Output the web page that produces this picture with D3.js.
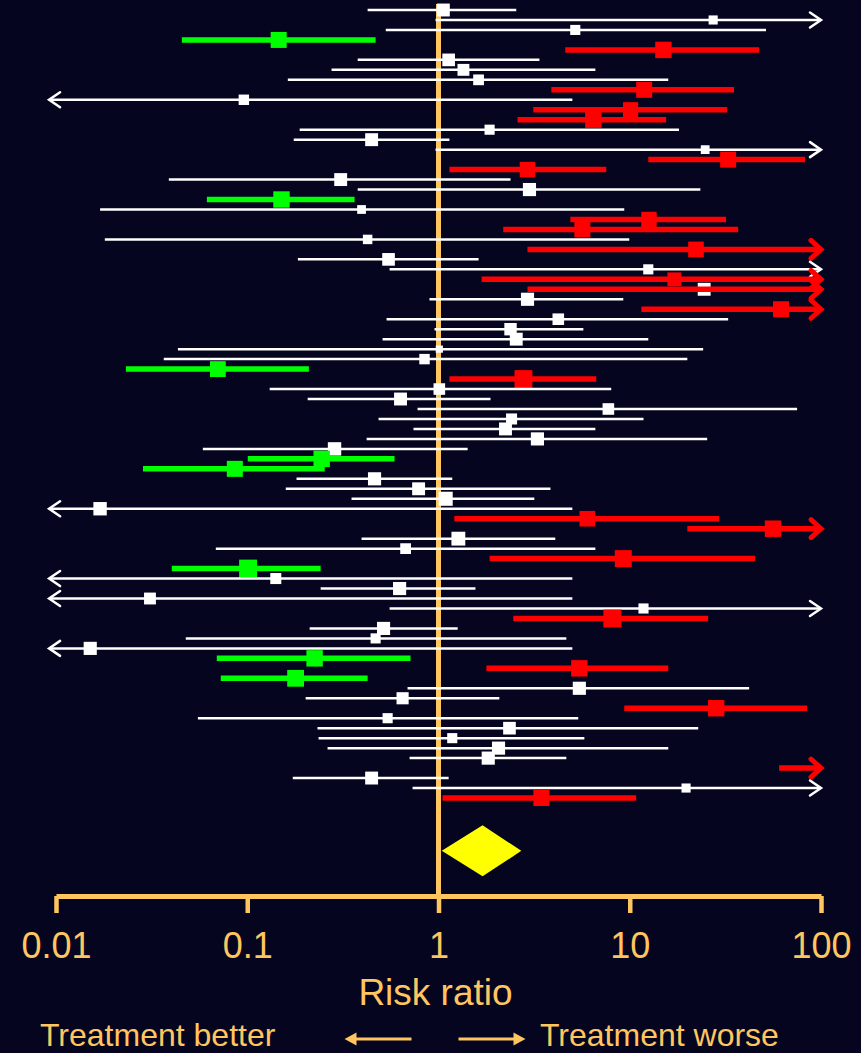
<!DOCTYPE html>
<html>
<head>
<meta charset="utf-8">
<script src="https://cdn.jsdelivr.net/npm/d3@7"></script>
<style>
  body { margin: 0; background: #050520; }
  svg { display: block; }
</style>
</head>
<body>
<svg id="chart"></svg>
<script>
// one entry per study, row = line of the plot (row 28 holds two studies)
var rowIndex = [0,1,2,3,4,5,6,7,8,9,10,11,12,13,14,15,16,17,18,19,
  20,21,22,23,24,25,26,27,28,28,29,30,31,32,33,34,35,36,37,38,39,
  40,41,42,43,44,45,46,47,48,49,50,51,52,53,54,55,56,57,58,59,
  60,61,62,63,64,65,66,67,68,69,70,71,72,73,74,75,76,77,78,79]

var estimates = [1.06,27.3,5.19,0.146,15.0,1.13,1.35,1.62,11.9,0.096,
  10.1,6.45,1.85,0.447,24.8,32.7,2.92,0.308,2.99,0.151,
  0.396,12.6,5.65,0.426,22.2,0.548,12.5,17.1,24.5,150,2.92,
  61.8,4.23,2.38,2.55,1.01,0.845,0.0702,2.78,1.01,0.633,
  7.73,2.41,2.24,3.29,0.286,0.245,0.0861,0.463,0.787,1.09,
  0.017,6.0,56.1,1.27,0.673,9.25,0.101,0.141,0.626,0.031,
  11.8,8.11,0.516,0.469,0.0151,0.225,5.45,0.179,5.45,0.649,
  28.3,0.542,2.35,1.18,2.06,1.82,180,0.447,19.7,3.45]

var lower = [0.426,0.965,0.53,0.0455,4.60,0.378,0.276,0.163,3.89,0.005,
  3.13,2.59,0.188,0.175,0.965,12.5,1.14,0.0389,0.378,0.0615,
  0.017,4.89,2.18,0.018,2.92,0.184,0.555,1.68,3.3,2.92,0.897,
  11.5,0.535,0.953,0.510,0.0434,0.0366,0.0232,1.14,0.131,0.207,
  0.777,0.486,0.740,0.421,0.0586,0.1006,0.0285,0.181,0.159,0.351,
  0.005,1.21,20.0,0.396,0.0685,1.85,0.0403,0.005,0.242,0.005,
  0.555,2.46,0.212,0.0477,0.005,0.0693,1.78,0.0727,0.689,0.202,
  9.36,0.0552,0.233,0.236,0.263,0.706,60.4,0.173,0.732,1.05]

var upper = [2.55,300,51.6,0.469,47.5,3.37,6.61,15.9,35.1,5.01,
  32.3,15.5,18.1,1.14,300,82.5,7.54,2.38,23.4,0.364,
  9.36,31.9,36.9,9.94,300,1.62,300,300,85,300,9.25,
  300,32.7,5.72,12.5,24.2,20.0,0.210,6.68,8.00,1.87,
  75,11.8,6.61,25.4,1.42,0.589,0.254,1.18,3.85,3.17,
  5.01,29.3,300,4.08,6.61,45.2,0.242,5.01,1.56,5.01,
  300,25.7,1.26,4.66,5.01,0.714,15.9,0.426,42.1,2.08,
  84.5,5.38,22.8,5.79,15.9,4.66,300,1.13,300,10.8]

var weights = [2.6,1.3,1.6,4,4.2,2.5,2.2,1.8,4,1.7,
  3.6,4.2,1.6,2.6,1.2,4,3.8,2.6,2.7,4.2,
  1.2,3.7,4,1.4,3.8,2.5,1.6,3.0,2.6,3,2.7,
  4,2.1,2.4,2.6,0.8,1.7,3.9,5,2.1,2.6,
  2.1,1.9,2.6,2.7,2.8,4.2,4,2.7,2.6,3.1,
  2.8,3.8,4.2,3.0,1.8,4.5,5,1.9,2.7,2.2,
  1.6,5,2.7,1.6,2.7,4.2,4.2,4.4,2.7,2.3,
  4.2,1.6,2.5,1.6,2.7,2.7,3,2.6,1.3,4]

// n = no clear effect, b = treatment better, w = treatment worse
var result = ['n','n','n','b','w','n','n','n','w','n',
  'w','w','n','n','n','w','w','n','n','b',
  'n','w','w','n','w','n','n','w','n','w','n',
  'w','n','n','n','n','n','b','w','n','n',
  'n','n','n','n','n','b','b','n','n','n',
  'n','w','w','n','n','w','b','n','n','n',
  'n','w','n','n','n','b','w','b','n','n',
  'w','n','n','n','n','n','w','n','n','w']

// pooled estimate: point, lower, upper
var pooled = [1.70, 1.04, 2.71]

var tickValues = [0.01, 0.1, 1, 10, 100]
var tickLabels = ['0.01', '0.1', '1', '10', '100']

var ORANGE = '#ffc660'
var colors = { n: '#ffffff', b: '#00ff00', w: '#ff0000' }

var W = 861, H = 1053
var svg = d3.select('#chart').attr('width', W).attr('height', H)
  .style('font-family', 'Liberation Sans, Arial, sans-serif')

svg.append('rect').attr('width', W).attr('height', H).attr('fill', '#050520')

var x = d3.scaleLog().domain([0.01, 100]).range([56, 821])
var y = d3.scaleLinear().domain([0, 79]).range([10, 798])
var size = d3.scaleSqrt().domain([0, 4]).range([0, 16])

var axisY = 896
var LO_CLIP = 0.0092, HI_CLIP = 100

// line of no effect
svg.append('line')
  .attr('x1', x(1)).attr('x2', x(1))
  .attr('y1', 4).attr('y2', axisY)
  .attr('stroke', ORANGE).attr('stroke-width', 5)

var studies = rowIndex.map(function (r, i) {
  return { row: r, est: estimates[i], lo: lower[i], hi: upper[i], w: weights[i], res: result[i] }
})

var g = svg.selectAll('g.study')
  .data(studies)
  .join('g')
  .attr('class', 'study')

g.each(function (d) {
  var s = d3.select(this)
  var c = colors[d.res]
  var thick = d.res === 'n' ? 2.5 : 5.5
  var cy = y(d.row)
  var x1 = x(Math.max(d.lo, LO_CLIP))
  var x2 = x(Math.min(d.hi, HI_CLIP))

  s.append('line')
    .attr('x1', x1).attr('x2', x2)
    .attr('y1', cy).attr('y2', cy)
    .attr('stroke', c).attr('stroke-width', thick)

  // chevrons for intervals running off the scale
  var ax = d.res === 'n' ? 11 : 10
  var ay = d.res === 'n' ? 7.5 : 9
  var aw = d.res === 'n' ? 2.5 : 5
  if (d.hi > HI_CLIP) {
    s.append('path')
      .attr('d', 'M' + (x2 - ax) + ',' + (cy - ay) + 'L' + x2 + ',' + cy + 'L' + (x2 - ax) + ',' + (cy + ay))
      .attr('fill', 'none').attr('stroke', c).attr('stroke-width', aw)
      .attr('stroke-linecap', 'round')
  }
  if (d.lo < 0.01) {
    s.append('path')
      .attr('d', 'M' + (x1 + ax) + ',' + (cy - ay) + 'L' + x1 + ',' + cy + 'L' + (x1 + ax) + ',' + (cy + ay))
      .attr('fill', 'none').attr('stroke', c).attr('stroke-width', aw)
      .attr('stroke-linecap', 'round')
  }

  // point estimate, sized by weight
  if (d.est >= 0.01 && d.est <= 100) {
    var sz = size(d.w)
    s.append('rect')
      .attr('x', x(d.est) - sz / 2).attr('y', cy - sz / 2)
      .attr('width', sz).attr('height', sz)
      .attr('fill', c)
  }
})

// pooled diamond
var dy = y(84.3)
svg.append('path')
  .attr('d', 'M' + x(pooled[1]) + ',' + dy +
    'L' + x(pooled[0]) + ',' + (dy - 25.5) +
    'L' + x(pooled[2]) + ',' + dy +
    'L' + x(pooled[0]) + ',' + (dy + 25.5) + 'Z')
  .attr('fill', '#ffff00')

// x axis
var xa = d3.axisBottom(x)
  .tickValues(tickValues)
  .tickFormat(function (d, i) { return tickLabels[i] })
  .tickSize(17)
  .tickSizeOuter(0)
  .tickPadding(19)

var axis = svg.append('g')
  .attr('transform', 'translate(0,' + axisY + ')')
  .call(xa)

axis.select('.domain').attr('stroke', ORANGE).attr('stroke-width', 5)
axis.selectAll('.tick line').attr('stroke', ORANGE).attr('stroke-width', 4.5)
axis.selectAll('.tick text')
  .attr('fill', ORANGE)
  .style('font-size', '36px')
  .style('font-family', 'Liberation Sans, Arial, sans-serif')

svg.append('text')
  .attr('x', x(1) - 3).attr('y', 1005)
  .attr('text-anchor', 'middle')
  .attr('fill', ORANGE)
  .style('font-size', '37px')
  .text('Risk ratio')

svg.append('text')
  .attr('x', 40).attr('y', 1046)
  .attr('fill', ORANGE)
  .style('font-size', '32px')
  .text('Treatment better')

svg.append('text')
  .attr('x', 540).attr('y', 1046)
  .attr('fill', ORANGE)
  .style('font-size', '32px')
  .text('Treatment worse')

// small direction arrows beside the captions
var arrowY = 1039
var cx = x(1)
svg.append('line')
  .attr('x1', cx - 27).attr('x2', cx - 84)
  .attr('y1', arrowY).attr('y2', arrowY)
  .attr('stroke', ORANGE).attr('stroke-width', 3)
svg.append('path')
  .attr('d', 'M' + (cx - 94) + ',' + arrowY + 'l12,-6.5l0,13z')
  .attr('fill', ORANGE)
svg.append('line')
  .attr('x1', cx + 20).attr('x2', cx + 77)
  .attr('y1', arrowY).attr('y2', arrowY)
  .attr('stroke', ORANGE).attr('stroke-width', 3)
svg.append('path')
  .attr('d', 'M' + (cx + 87) + ',' + arrowY + 'l-12,-6.5l0,13z')
  .attr('fill', ORANGE)
</script>
</body>
</html>
